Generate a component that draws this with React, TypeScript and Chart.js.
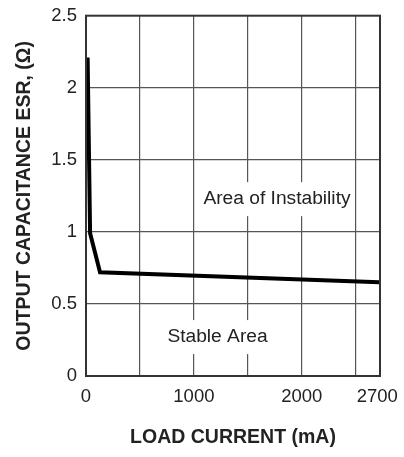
import React, { useEffect, useRef } from "react";
import { Chart, registerables } from "chart.js";

Chart.register(...registerables);

// Data
const loadCurrentMa = [15, 38, 130, 2718];
const esrOhm = [2.21, 0.99, 0.72, 0.65];

const xGridTicks = [0, 500, 1000, 1500, 2000, 2500, 2700];
const xLabelTicks = [0, 1000, 2000, 2700];
const yTicks = [0, 0.5, 1, 1.5, 2, 2.5];

const regionLabels = ["Area of Instability", "Stable Area"];
const regionLabelX = [1770, 1219];
const regionLabelY = [1.227, 0.27];

const FONT = "'Liberation Sans', Arial, Helvetica, sans-serif";
const TEXT = "#222";

const framePlugin = {
  id: "frameAndLabels",
  afterDraw(chart: any) {
    const { ctx, chartArea, scales } = chart;
    ctx.save();
    ctx.font = `19.2px ${FONT}`;
    ctx.textAlign = "center";
    ctx.textBaseline = "middle";
    regionLabels.forEach((t, i) => {
      const px = scales.x.getPixelForValue(regionLabelX[i]);
      const py = scales.y.getPixelForValue(regionLabelY[i]);
      const w = ctx.measureText(t).width;
      ctx.fillStyle = "#fff";
      ctx.fillRect(px - w / 2 - 3, py - 17, w + 6, 34);
      ctx.fillStyle = TEXT;
      ctx.fillText(t, px, py);
    });
    ctx.strokeStyle = "#333";
    ctx.lineWidth = 2;
    ctx.strokeRect(
      chartArea.left,
      chartArea.top,
      chartArea.right - chartArea.left,
      chartArea.bottom - chartArea.top
    );
    ctx.restore();
  },
};

export default function App() {
  const ref = useRef<HTMLCanvasElement | null>(null);

  useEffect(() => {
    if (!ref.current) return;
    const chart = new Chart(ref.current, {
      type: "scatter",
      data: {
        datasets: [
          {
            data: loadCurrentMa.map((x, i) => ({ x, y: esrOhm[i] })),
            showLine: true,
            borderColor: "#000",
            borderWidth: 4,
            pointRadius: 0,
            tension: 0,
            borderJoinStyle: "miter",
          } as any,
        ],
      },
      options: {
        animation: false,
        responsive: true,
        maintainAspectRatio: false,
        layout: { padding: { top: 15.7, right: 24, bottom: 0, left: 0 } },
        plugins: { legend: { display: false }, tooltip: { enabled: false } },
        scales: {
          x: {
            type: "linear",
            min: 0,
            max: 2725,
            afterBuildTicks: (scale: any) => {
              scale.ticks = xGridTicks.map((v) => ({ value: v }));
            },
            afterFit: (scale: any) => {
              scale.height = 81;
              scale.paddingLeft = 0;
              scale.paddingRight = 0;
            },
            ticks: {
              autoSkip: false,
              maxRotation: 0,
              padding: 10,
              color: TEXT,
              font: { family: FONT, size: 18.5 },
              callback: (v: any) => (xLabelTicks.includes(Number(v)) ? String(v) : ""),
            },
            grid: {
              drawTicks: false,
              lineWidth: 1.2,
              color: (ctx: any) =>
                ctx.tick && (ctx.tick.value === 2700 || ctx.tick.value === 0)
                  ? "rgba(0,0,0,0)"
                  : "#555",
            },
            border: { display: false },
            title: {
              display: true,
              text: "LOAD CURRENT (mA)",
              color: TEXT,
              font: { family: FONT, size: 19.5, weight: "bold" },
              padding: { top: 0, bottom: 7.4 },
            },
          },
          y: {
            min: 0,
            max: 2.5,
            afterBuildTicks: (scale: any) => {
              scale.ticks = yTicks.map((v) => ({ value: v }));
            },
            afterFit: (scale: any) => {
              scale.width = 86;
              scale.paddingTop = 0;
              scale.paddingBottom = 0;
            },
            ticks: {
              padding: 9,
              color: TEXT,
              font: { family: FONT, size: 18.5 },
              callback: (v: any) => String(v),
            },
            grid: {
              drawTicks: false,
              lineWidth: 1.2,
              color: (ctx: any) =>
                ctx.tick && (ctx.tick.value === 0 || ctx.tick.value === 2.5)
                  ? "rgba(0,0,0,0)"
                  : "#555",
            },
            border: { display: false },
            title: {
              display: true,
              text: "OUTPUT CAPACITANCE ESR, (Ω)",
              color: TEXT,
              font: { family: FONT, size: 19.5, weight: "bold" },
              padding: { top: 13.3, bottom: 0 },
            },
          },
        },
      } as any,
      plugins: [framePlugin],
    });
    return () => chart.destroy();
  }, []);

  return (
    <div style={{ position: "absolute", left: 0, top: 0, width: 404, height: 457, background: "#fff" }}>
      <canvas ref={ref} />
    </div>
  );
}
